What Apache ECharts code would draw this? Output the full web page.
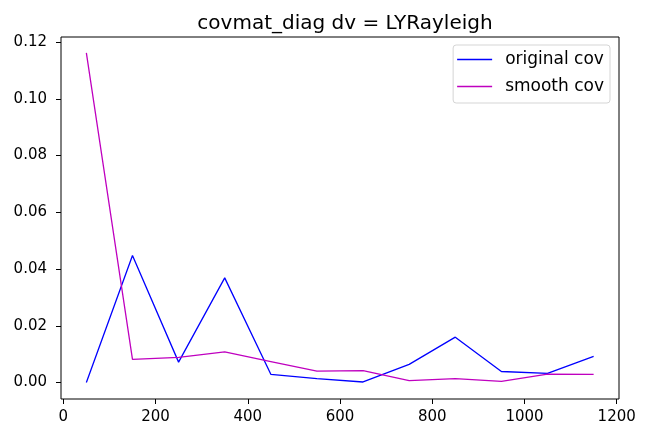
<!DOCTYPE html>
<html>
<head>
<meta charset="utf-8">
<script src="https://cdn.jsdelivr.net/npm/echarts@6/dist/echarts.min.js"></script>
<style>
  html, body { margin: 0; padding: 0; background: #fff; }
  #chart { width: 649px; height: 441px; }
</style>
</head>
<body>
<div id="chart"></div>
<script>
// values
const xs = [50, 150, 250, 350, 450, 550, 650, 750, 850, 950, 1050, 1150]
const originalCov = [0.0000, 0.0448, 0.0072, 0.0369, 0.0029, 0.0014, 0.0002, 0.0064, 0.0160, 0.0039, 0.0032, 0.0092]
const smoothCov = [0.1162, 0.0082, 0.0089, 0.0108, 0.0074, 0.0040, 0.0042, 0.0007, 0.0014, 0.0004, 0.0030, 0.0029]
const xTicks = [0, 200, 400, 600, 800, 1000, 1200]
const yTicks = [0, 0.02, 0.04, 0.06, 0.08, 0.1, 0.12]

const font = 'DejaVu Sans'
const pairs = (ys) => xs.map((x, i) => [x, ys[i]])

const chart = echarts.init(document.getElementById('chart'))

const option = {
  animation: false,
  backgroundColor: '#fff',
  title: {
    text: 'covmat_diag dv = LYRayleigh',
    left: 340,
    top: 9,
    textAlign: 'center',
    textStyle: { fontFamily: font, fontSize: 20, fontWeight: 'normal', color: '#000' },
  },
  legend: {
    orient: 'vertical',
    right: 39,
    top: 45,
    padding: [6, 6, 8, 4],
    itemGap: 10,
    itemWidth: 35,
    itemHeight: 1.5,
    icon: 'rect',
    borderColor: '#d5d5d5',
    borderWidth: 1,
    borderRadius: 3,
    textStyle: { fontFamily: font, fontSize: 17, color: '#000', padding: [0, 0, 0, 8] },
    data: ['original cov', 'smooth cov'],
  },
  grid: {
    left: 61,
    right: 30,
    top: 37,
    bottom: 42,
    show: true,
    borderColor: '#000',
    borderWidth: 1,
  },
  xAxis: {
    type: 'value',
    min: -5,
    max: 1205,
    splitLine: { show: false },
    axisLine: { show: false, onZero: false },
    axisTick: {
      show: true,
      length: 5,
      lineStyle: { color: '#000' },
      customValues: xTicks,
    },
    axisLabel: {
      fontFamily: font,
      fontSize: 15,
      color: '#000',
      margin: 11,
      customValues: xTicks,
      formatter: (v) => String(v),
    },
  },
  yAxis: {
    type: 'value',
    min: -0.0058,
    max: 0.1218,
    splitLine: { show: false },
    axisLine: { show: false, onZero: false },
    axisTick: {
      show: true,
      length: 5,
      lineStyle: { color: '#000' },
      customValues: yTicks,
    },
    axisLabel: {
      fontFamily: font,
      fontSize: 15,
      color: '#000',
      margin: 14,
      customValues: yTicks,
      formatter: (v) => v.toFixed(2),
    },
  },
  series: [
    {
      name: 'original cov',
      type: 'line',
      data: pairs(originalCov),
      showSymbol: false,
      symbol: 'none',
      color: '#0000ff',
      lineStyle: { width: 1.3, color: '#0000ff' },
    },
    {
      name: 'smooth cov',
      type: 'line',
      data: pairs(smoothCov),
      showSymbol: false,
      symbol: 'none',
      color: '#bf00bf',
      lineStyle: { width: 1.3, color: '#bf00bf' },
    },
  ],
}

chart.setOption(option, true)
</script>
</body>
</html>
